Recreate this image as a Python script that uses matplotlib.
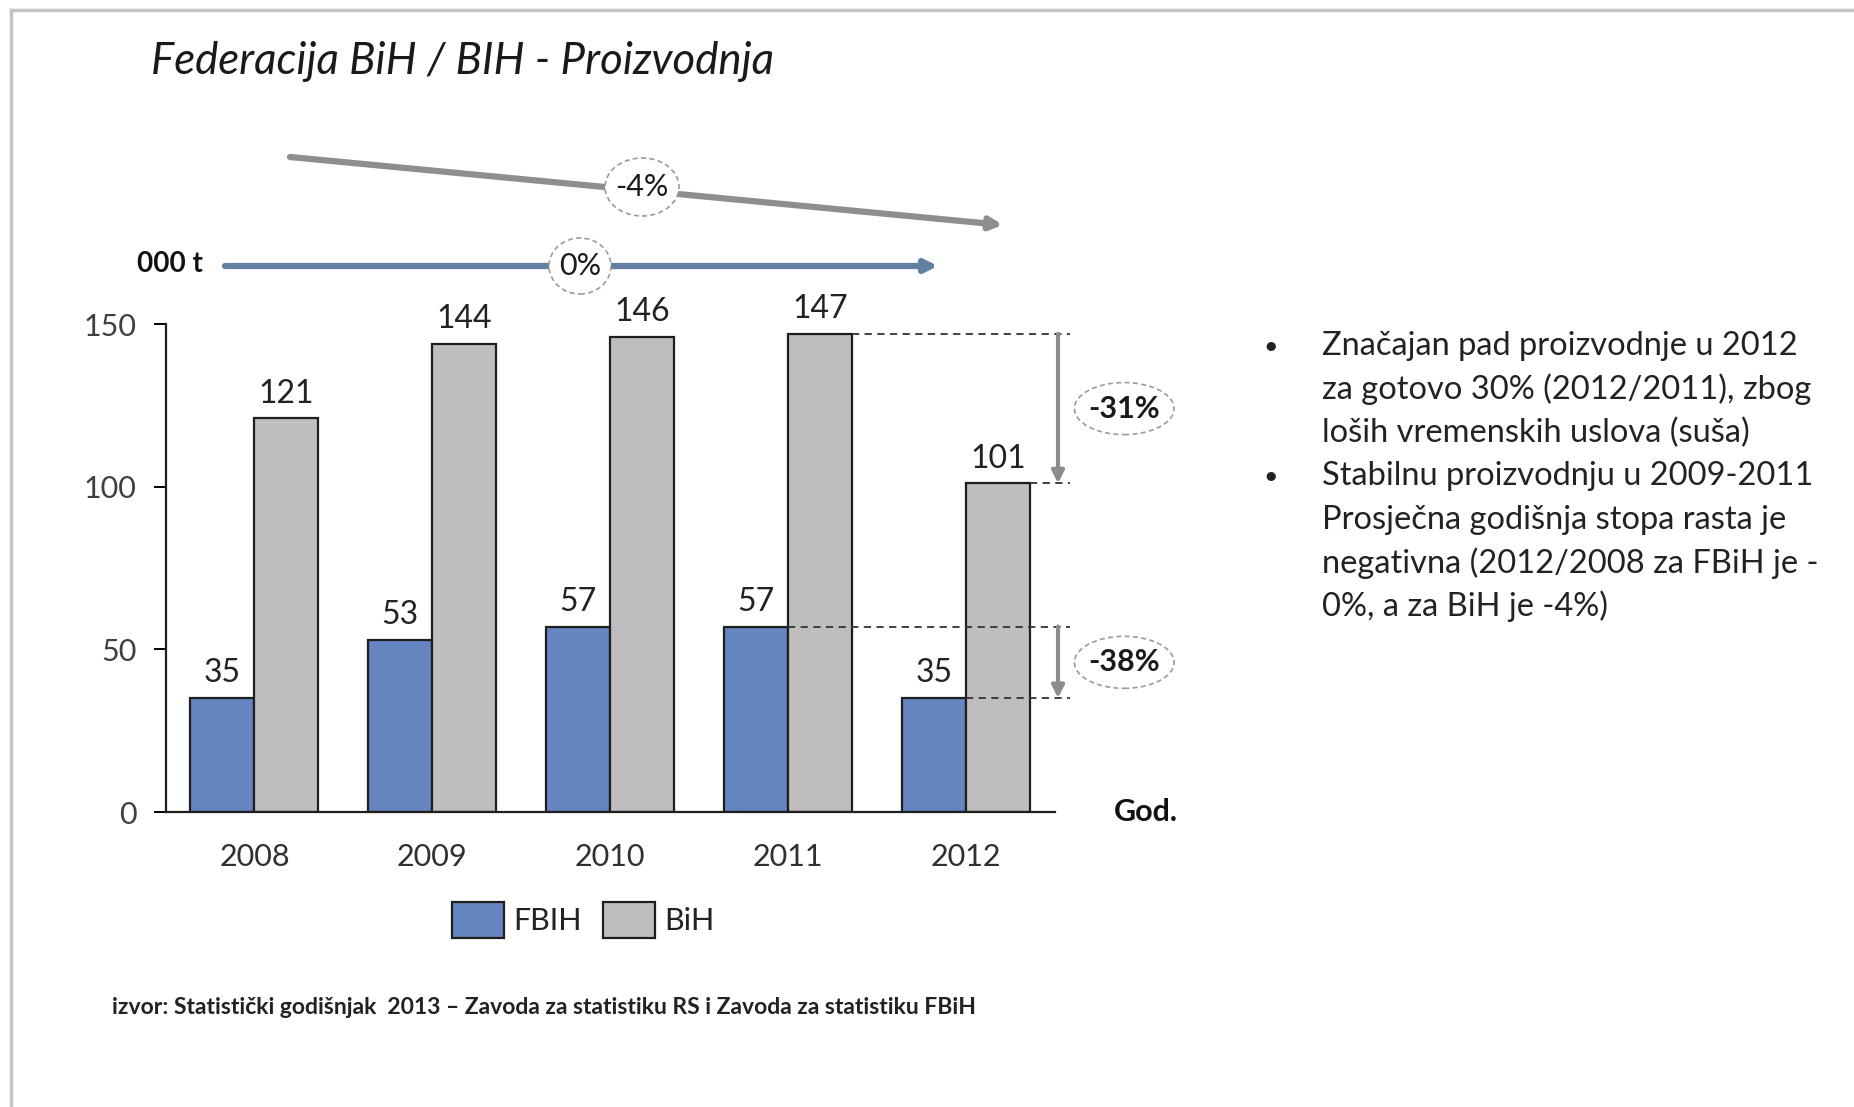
import matplotlib.pyplot as plt
from matplotlib.patches import Ellipse
import numpy as np

# podaci (000 t)
godine = ["2008", "2009", "2010", "2011", "2012"]
fbih = [35, 53, 57, 57, 35]
bih = [121, 144, 146, 147, 101]
yticks = [0, 50, 100, 150]
pad_labels = ["-31%", "-38%"]
trend_labels = ["-4%", "0%"]

bullets = [
    ["Značajan pad proizvodnje u 2012",
     "za gotovo 30% (2012/2011), zbog",
     "loših vremenskih uslova (suša)"],
    ["Stabilnu proizvodnju u 2009-2011",
     "Prosječna godišnja stopa rasta je",
     "negativna (2012/2008 za FBiH je -",
     "0%, a za BiH je -4%)"],
]

plt.rcParams['font.family'] = ['Lato', 'DejaVu Sans']

W, H = 1854, 1107
fig = plt.figure(figsize=(W / 100, H / 100), dpi=100)
ax = fig.add_axes([165.5 / W, 1 - 812 / H, (1055 - 165.5) / W, (812 - 324) / H])

x = np.arange(len(godine))
bw = 0.36
c_fbih = "#6485c0"
c_bih = "#bebebe"
ax.bar(x - bw / 2, fbih, bw, color=c_fbih, edgecolor="#1e1e1e", lw=1.6, label="FBIH")
ax.bar(x + bw / 2, bih, bw, color=c_bih, edgecolor="#1e1e1e", lw=1.6, label="BiH")

for i in range(len(godine)):
    ax.text(x[i] - bw / 2, fbih[i] + 3, str(fbih[i]), ha="center", va="bottom",
            fontsize=23, color="#222222", clip_on=False)
    ax.text(x[i] + bw / 2, bih[i] + 3, str(bih[i]), ha="center", va="bottom",
            fontsize=23, color="#222222", clip_on=False)

ax.set_xlim(-0.5, 4.5)
ax.set_ylim(0, 150)
ax.set_yticks(yticks)
ax.set_xticks(x)
ax.set_xticklabels(godine)
ax.tick_params(axis="y", length=9, width=1.4, labelsize=22, labelcolor="#404040", pad=12)
ax.tick_params(axis="x", length=0, labelsize=22, labelcolor="#303030", pad=22)
for s in ["top", "right"]:
    ax.spines[s].set_visible(False)
for s in ["left", "bottom"]:
    ax.spines[s].set_linewidth(1.6)
    ax.spines[s].set_color("#1e1e1e")

# isprekidane linije i strelice za pad 2012/2011
xr = 4.583
xa = 4.517
ax.plot([3 + bw, xr], [bih[3], bih[3]], ls=(0, (4, 3)), color="#333333", lw=1.3, clip_on=False)
ax.plot([4 + bw, xr], [bih[4], bih[4]], ls=(0, (4, 3)), color="#333333", lw=1.3, clip_on=False)
ax.plot([3, xr], [fbih[3], fbih[3]], ls=(0, (4, 3)), color="#333333", lw=1.3, clip_on=False)
ax.plot([4, xr], [fbih[4], fbih[4]], ls=(0, (4, 3)), color="#333333", lw=1.3, clip_on=False)
pairs = [(bih[3], bih[4]), (fbih[3], fbih[4])]
for (top, bot), lab in zip(pairs, pad_labels):
    ax.annotate("", xy=(xa, bot), xytext=(xa, top), xycoords="data",
                arrowprops=dict(arrowstyle="-|>", color="#8c8c8c", lw=3,
                                mutation_scale=18, shrinkA=0, shrinkB=0),
                annotation_clip=False)
    yc = (top + bot) / 2
    ax.add_patch(Ellipse((4.889, yc), 0.56, 16, facecolor="white", edgecolor="#9a9a9a",
                         ls=(0, (3, 2)), lw=1.2, clip_on=False, zorder=4))
    ax.text(4.889, yc, lab, ha="center", va="center", fontsize=22,
            fontweight="bold", color="#1a1a1a", zorder=5, clip_on=False)

ax.text(4.83, 0, "God.", ha="left", va="center", fontsize=22, fontweight="bold",
        color="#111111", clip_on=False)


def fp(px, py):
    return (px, H - py)


# gornje strelice (prosječne stope rasta)
ax.annotate("", xy=fp(1003, 225), xytext=fp(290, 157), xycoords="figure pixels",
            textcoords="figure pixels",
            arrowprops=dict(arrowstyle="-|>", color="#8e8e8e", lw=4.5,
                            mutation_scale=18, shrinkA=0, shrinkB=0))
ax.annotate("", xy=fp(938, 266), xytext=fp(225, 266), xycoords="figure pixels",
            textcoords="figure pixels",
            arrowprops=dict(arrowstyle="-|>", color="#6281a2", lw=4.5,
                            mutation_scale=18, shrinkA=0, shrinkB=0))

for (cx, cy, w, h), lab in zip([(642, 187, 74, 58), (580, 266, 62, 56)], trend_labels):
    fig.patches.append(Ellipse((cx / W, 1 - cy / H), w / W, h / H, transform=fig.transFigure,
                               facecolor="white", edgecolor="#9a9a9a", ls=(0, (3, 2)), lw=1.2,
                               zorder=4))
    fig.text(cx / W, 1 - cy / H, lab, ha="center", va="center", fontsize=22,
             color="#1a1a1a", zorder=5)

fig.text(203 / W, 1 - 264 / H, "000 t", ha="right", va="center", fontsize=20,
         fontweight="bold", color="#111111")

# naslov
fig.text(151 / W, 1 - 62 / H, "Federacija BiH / BIH - Proizvodnja", ha="left", va="center",
         fontsize=31.5, fontstyle="italic", color="#1a1a1a")

# legenda
fig.legend(loc="center", bbox_to_anchor=(583 / W, 1 - 920 / H), ncol=2, frameon=False,
           fontsize=22, handlelength=1.7, handleheight=1.4, handletextpad=0.3,
           columnspacing=0.7, labelcolor="#222222")

# izvor
fig.text(112 / W, 1 - 1008 / H,
         "izvor: Statistički godišnjak  2013 – Zavoda za statistiku RS i Zavoda za statistiku FBiH",
         ha="left", va="center", fontsize=16.5, fontweight="bold", color="#222222")

# tekst s desne strane
line_h = 43.4
y0 = 346
k = 0
for b in bullets:
    fig.text(1271 / W, 1 - (y0 + k * line_h) / H, "•", ha="center", va="center",
             fontsize=18, color="#222222")
    for ln in b:
        fig.text(1322 / W, 1 - (y0 + k * line_h) / H, ln, ha="left", va="center",
                 fontsize=23.5, color="#222222")
        k += 1

# okvir
fig.add_artist(plt.Line2D([11 / W, 11 / W], [0, 1 - 10 / H], color="#c4c4c4", lw=2.5))
fig.add_artist(plt.Line2D([11 / W, 1], [1 - 10 / H, 1 - 10 / H], color="#c4c4c4", lw=2.5))

fig.savefig("out.png", dpi=100)
